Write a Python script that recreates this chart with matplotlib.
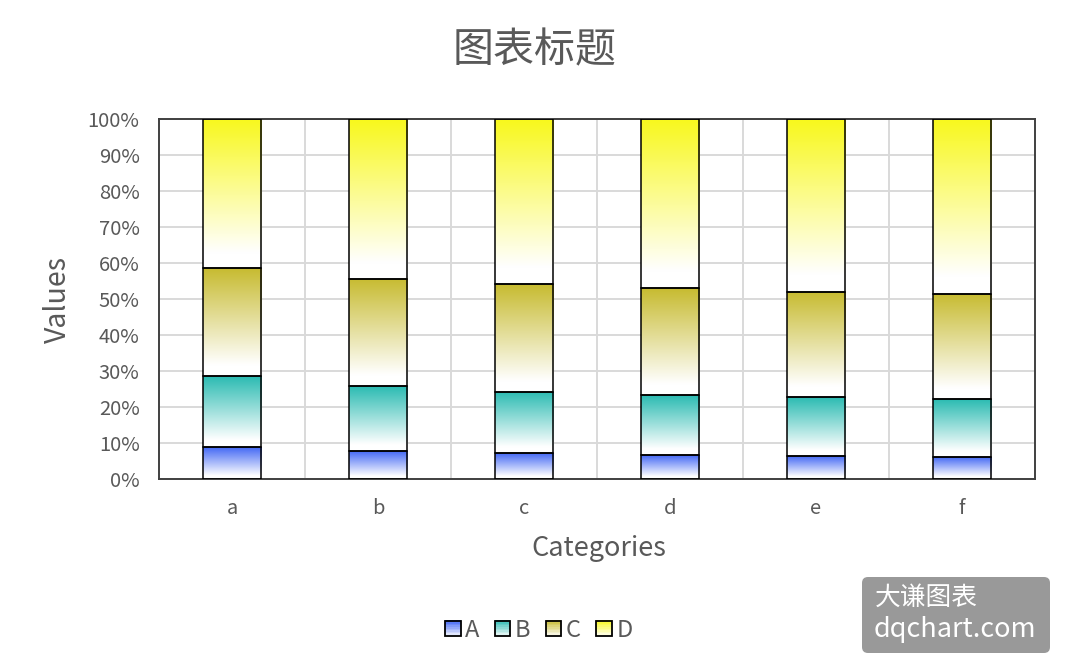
import numpy as np
import matplotlib
matplotlib.use('Agg')
import matplotlib.pyplot as plt
from matplotlib.patches import Rectangle, FancyBboxPatch
from matplotlib.legend_handler import HandlerBase
from matplotlib.colors import to_rgb

plt.rcParams['font.family'] = ['Noto Sans CJK SC', 'DejaVu Sans']
plt.rcParams['font.weight'] = 'light'

# data (percent of each category)
categories = ['a', 'b', 'c', 'd', 'e', 'f']
series_names = ['A', 'B', 'C', 'D']
A_vals = [9.0, 7.9, 7.3, 6.7, 6.5, 6.2]
B_vals = [19.6, 17.9, 17.0, 16.6, 16.2, 15.9]
C_vals = [29.9, 29.8, 29.9, 29.7, 29.3, 29.2]
D_vals = [41.5, 44.4, 45.8, 47.0, 48.0, 48.7]
colors = ['#3d63f4', '#2bbbb2', '#c7bb30', '#f8f81c']

text_gray = '#595959'


def gradient(color, n=200, stop=0.9):
    # bottom (row 0) white -> top full colour
    t = np.linspace(0, 1, n)
    f = np.clip((t - (1 - stop)) / stop, 0, 1)[:, None]
    c = np.array(to_rgb(color))[None, :]
    rgb = (1 - f) * 1.0 + f * c
    return rgb[:, None, :]


class GradHandler(HandlerBase):
    def create_artists(self, legend, orig_handle, xdescent, ydescent,
                       width, height, fontsize, trans):
        color = orig_handle.get_facecolor()
        side = height
        x0 = -xdescent + (width - side) / 2
        y0 = -ydescent
        arts = []
        n = 10
        for i in range(n):
            f = (i + 0.5) / n
            c = (1 - f) * np.ones(3) + f * np.array(color[:3])
            r = Rectangle((x0, y0 + side * i / n), side, side / n + 0.3,
                          facecolor=c, edgecolor='none', transform=trans)
            arts.append(r)
        arts.append(Rectangle((x0, y0), side, side, facecolor='none',
                              edgecolor='black', linewidth=1.3, transform=trans))
        return arts


fig = plt.figure(figsize=(10.69, 6.72), dpi=100)
ax = fig.add_axes([159 / 1069, 193 / 672, 876 / 1069, 360 / 672])

series = [A_vals, B_vals, C_vals, D_vals]
totals = np.sum(np.array(series), axis=0)
x = np.arange(len(categories))
width = 0.4
bottom = np.zeros(len(categories))
handles = []
for name, vals, col in zip(series_names, series, colors):
    frac = np.array(vals) / totals
    img = gradient(col)
    for xi, b, h in zip(x, bottom, frac):
        ax.imshow(img, extent=[xi - width / 2, xi + width / 2, b, b + h],
                  aspect='auto', origin='lower', zorder=2, interpolation='bilinear')
    ax.bar(x, frac, width=width, bottom=bottom, facecolor='none',
           edgecolor='black', linewidth=1.1, zorder=3)
    handles.append(Rectangle((0, 0), 1, 1, facecolor=col, label=name))
    bottom = bottom + frac

ax.set_xlim(-0.5, len(categories) - 0.5)
ax.set_ylim(0, 1)
ax.set_yticks(np.linspace(0, 1, 11))
ax.set_yticklabels([f'{int(round(v * 100))}%' for v in np.linspace(0, 1, 11)])
ax.set_xticks(x)
ax.set_xticklabels(categories)
ax.set_xticks(x[:-1] + 0.5, minor=True)
ax.tick_params(axis='both', which='both', length=0, labelsize=14.5,
               labelcolor=text_gray)
ax.tick_params(axis='y', pad=14)
ax.tick_params(axis='x', pad=14)
ax.grid(axis='y', which='major', color='#d9d9d9', linewidth=1.4, zorder=0)
ax.grid(axis='x', which='minor', color='#d9d9d9', linewidth=1.4, zorder=0)
ax.set_axisbelow(True)
for s in ax.spines.values():
    s.set_color('#404040')
    s.set_linewidth(1.4)

fig.text(0.5005, 0.924, '图表标题', fontsize=29.5, color=text_gray,
         ha='center', va='center')
fig.text(58 / 1069, 0.5536, 'Values', fontsize=20.5, color=text_gray,
         rotation=90, ha='center', va='center')
fig.text(599 / 1069, 0.1845, 'Categories', fontsize=19.5, color=text_gray,
         ha='center', va='center')

fig.legend(handles=handles, handler_map={Rectangle: GradHandler()},
           loc='center', bbox_to_anchor=(0.504, 0.062), ncol=4,
           frameon=False, fontsize=17, labelcolor=text_gray,
           handlelength=0.65, handleheight=0.65, handletextpad=0.2,
           columnspacing=0.65)

# watermark
fig.add_artist(FancyBboxPatch((8.62, 0.19), 1.88, 0.76,
                              boxstyle='round,pad=0,rounding_size=0.06',
                              transform=fig.dpi_scale_trans,
                              facecolor='#999999', edgecolor='none'))
fig.text(8.75, 0.67, '大谦图表', fontsize=18.5, color='white',
         ha='left', va='baseline', transform=fig.dpi_scale_trans)
fig.text(8.74, 0.35, 'dqchart.com', fontsize=19.5, color='white',
         ha='left', va='baseline', transform=fig.dpi_scale_trans)

fig.savefig('out.png', dpi=100)
